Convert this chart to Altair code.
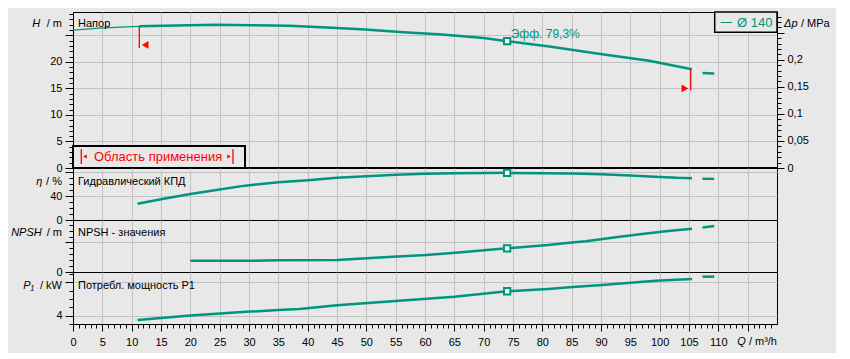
import altair as alt
import pandas as pd

# ---------------- data ----------------
# Head H [m] vs flow Q [m3/h]
Q_H_THIN = [0, 5, 11.3]
H_THIN = [26.0, 26.4, 26.7]
Q_H = [11.3, 17.5, 24.3, 30.5, 36.8, 43.3, 49.8, 56.4, 62.9, 70, 74, 81.2, 90.2, 98.2, 105.5]
H_VAL = [26.7, 26.85, 27.0, 26.9, 26.8, 26.5, 26.1, 25.6, 25.15, 24.5, 23.9, 22.9, 21.45, 20.2, 18.6]
Q_H_EXT = [107.3, 109.3]
H_EXT = [17.9, 17.8]

# Hydraulic efficiency eta [%]
Q_ETA = [11, 15, 20, 25, 29, 35, 40, 45, 50, 55, 60, 65, 70, 74, 80, 85, 90, 95, 100, 103, 105.5]
ETA = [27.3, 35, 43.8, 51.5, 57.4, 63.5, 67, 70.9, 73.8, 76.2, 77.8, 78.8, 79.2, 79.3, 78.8, 78.1, 76.8, 75, 72.5, 71, 70.4]
Q_ETA_EXT = [107.3, 109.3]
ETA_EXT = [69.5, 69.2]

# NPSH [m]
Q_NPSH = [20, 30, 35, 45, 53.7, 60.2, 66.2, 74, 81, 85, 87.4, 92.5, 97, 101, 105.5]
NPSH = [1.9, 1.9, 2.0, 2.05, 2.55, 2.88, 3.33, 4.0, 4.55, 5.0, 5.2, 5.88, 6.43, 6.88, 7.33]
Q_NPSH_EXT = [107.3, 109.3]
NPSH_EXT = [7.55, 7.77]

# Power input P1 [kW]
Q_P1 = [11, 20, 29.5, 35, 38.6, 45, 55, 65, 74, 81, 84.6, 90.2, 99.3, 105.5]
P1 = [3.865, 4.0, 4.11, 4.165, 4.2, 4.31, 4.435, 4.565, 4.73, 4.8, 4.85, 4.92, 5.05, 5.1]
Q_P1_EXT = [107.3, 109.3]
P1_EXT = [5.17, 5.17]

# duty point
Q_DUTY = 74
H_DUTY = 23.9
ETA_DUTY = 79.3
NPSH_DUTY = 4.0
P1_DUTY = 4.73

# operating range limits
Q_LIM = [11.3, 105.3]
H_LIM_TOP = [26.7, 18.6]
H_LIM_BOT = [22.6, 14.6]
Q_TRI_L = [12.3]
H_TRI_L = [23.2]
Q_TRI_R = [104.3]
H_TRI_R = [15.0]

X_TICKS = list(range(0, 120))
H_TICKS = list(range(0, 30))
DP_TICKS = [round(i * 0.01, 2) for i in range(0, 29)]
ETA_TICKS = list(range(0, 90, 10))
NPSH_TICKS = list(range(0, 9))
P1_TICKS = [3.75, 4.0, 4.25, 4.5, 4.75, 5.0, 5.25]

H_DOMAIN = [0, 29.4]
DP_DOMAIN = [0, 29.4 / 101.97]
ETA_DOMAIN = [0, 87.5]
NPSH_DOMAIN = [0, 8.8]
P1_DOMAIN = [3.745, 5.31]
Q_DOMAIN = [0, 120]

# ---------------- style ----------------
BG = "#e8e8e8"
TEAL = "#00967d"
RED = "#ff0000"
GRID = "#c2c2c2"
FONT = "Liberation Sans"
FS = 11
W = 704
H_TOP = 156
H_SUB = 52

one = pd.DataFrame({"a": [0]})


def xenc(bottom=False):
    if bottom:
        axis = alt.Axis(
            values=X_TICKS, title=None, grid=True, gridColor=GRID,
            gridOpacity={"condition": {"test": "datum.value % 5 === 0 && datum.value > 0", "value": 1}, "value": 0},
            tickSize={"condition": {"test": "datum.value % 5 === 0", "value": 7}, "value": 4},
            labelExpr="datum.value % 5 === 0 && datum.value <= 110 ? datum.label : ''",
            labelOverlap=False, labelFlush=False, labelPadding=5, domainColor="black",
            tickColor="black", labelColor="black", labelFont=FONT, labelFontSize=FS,
        )
    else:
        axis = alt.Axis(
            values=list(range(5, 120, 5)), title=None, grid=True, gridColor=GRID,
            labels=False, ticks=False, domain=False,
        )
    return alt.X("Q:Q", scale=alt.Scale(domain=Q_DOMAIN, nice=False, zero=False), axis=axis)


def yaxis(values, grid_test, major_test, label_test, orient="left"):
    return alt.Axis(
        values=values, title=None, orient=orient, format="~f",
        grid=grid_test is not None, gridColor=GRID,
        gridOpacity={"condition": {"test": grid_test or "false", "value": 1}, "value": 0},
        tickSize={"condition": {"test": major_test, "value": 8 if orient == "left" else 7}, "value": 4},
        labelExpr=label_test, labelOverlap=False, labelFlush=False, labelPadding=3,
        domainColor="black", tickColor="black", labelColor="black",
        labelFont=FONT, labelFontSize=FS,
    )


def yenc(field, domain, axis):
    return alt.Y(field + ":Q", scale=alt.Scale(domain=domain, nice=False, zero=False), axis=axis)


def line(df, yfield, domain, axis, width=2.5, bottom=False):
    return alt.Chart(df).mark_line(color=TEAL, strokeWidth=width, clip=True).encode(
        x=xenc(bottom), y=yenc(yfield, domain, axis)
    )


def duty(df, yfield, domain, axis, bottom=False):
    return alt.Chart(df).mark_point(shape="square", size=40, filled=True, fill="white",
                                    stroke=TEAL, strokeWidth=2, opacity=1).encode(
        x=xenc(bottom), y=yenc(yfield, domain, axis)
    )


def txt(text, x, y, align="left", color="black", size=FS, style="normal"):
    return alt.Chart(one).mark_text(
        text=text, align=align, baseline="middle", font=FONT, fontSize=size,
        color=color, fontStyle=style,
    ).encode(x=alt.value(x), y=alt.value(y))


def panel_labels(var, var_x, unit, name, y):
    return [
        txt(var, var_x, y, align="right", style="italic"),
        txt(unit, -11, y, align="right"),
        txt(name, 5, y),
    ]


# ---------------- top panel: head ----------------
ax_h = yaxis(H_TICKS, "datum.value % 5 === 0 && datum.value > 0", "datum.value % 5 === 0",
             "datum.value % 5 === 0 && datum.value <= 20 ? datum.label : ''")

df_h_thin = pd.DataFrame({"Q": Q_H_THIN, "H": H_THIN})
df_h = pd.DataFrame({"Q": Q_H, "H": H_VAL})
df_h_ext = pd.DataFrame({"Q": Q_H_EXT, "H": H_EXT})
df_h_duty = pd.DataFrame({"Q": [Q_DUTY], "H": [H_DUTY]})
df_lim = pd.DataFrame({"Q": Q_LIM, "H": H_LIM_TOP, "H2": H_LIM_BOT})
df_tri_l = pd.DataFrame({"Q": Q_TRI_L, "H": H_TRI_L})
df_tri_r = pd.DataFrame({"Q": Q_TRI_R, "H": H_TRI_R})

lim_rules = alt.Chart(df_lim).mark_rule(color=RED, strokeWidth=1.3).encode(
    x=xenc(), y=yenc("H", H_DOMAIN, ax_h), y2="H2:Q"
)
tri_l = alt.Chart(df_tri_l).mark_point(shape="triangle-left", size=60, filled=True,
                                       color=RED, opacity=1).encode(
    x=xenc(), y=yenc("H", H_DOMAIN, ax_h))
tri_r = alt.Chart(df_tri_r).mark_point(shape="triangle-right", size=60, filled=True,
                                       color=RED, opacity=1).encode(
    x=xenc(), y=yenc("H", H_DOMAIN, ax_h))

range_box = alt.Chart(one).mark_rect(fill=BG, stroke="black", strokeWidth=2).encode(
    x=alt.value(0), x2=alt.value(172), y=alt.value(134), y2=alt.value(156))
range_bars = alt.Chart(pd.DataFrame({"x": [8.3, 160]})).mark_rule(color=RED, strokeWidth=1.3).encode(
    x=alt.X("x:Q", scale=None), y=alt.value(137), y2=alt.value(152))
range_tri_l = alt.Chart(one).mark_point(shape="triangle-left", size=18, filled=True, color=RED, opacity=1).encode(
    x=alt.value(12), y=alt.value(144.5))
range_tri_r = alt.Chart(one).mark_point(shape="triangle-right", size=18, filled=True, color=RED, opacity=1).encode(
    x=alt.value(156), y=alt.value(144.5))
range_text = txt("Область применения", 21, 144.5, color=RED, size=13)

bottom_border = alt.Chart(one).mark_rule(color="black", strokeWidth=2).encode(
    x=alt.value(0), x2=alt.value(W), y=alt.value(156))

legend_box = alt.Chart(one).mark_rect(fill=BG, stroke="black", strokeWidth=1.5).encode(
    x=alt.value(641.7), x2=alt.value(704), y=alt.value(0), y2=alt.value(20.3))
legend_line = alt.Chart(one).mark_rule(color=TEAL, strokeWidth=1).encode(
    x=alt.value(647.7), x2=alt.value(659.3), y=alt.value(10.5))
legend_text = txt("Ø 140", 664, 10.5, color=TEAL, size=13)

eff_text = txt("Эфф.  79,3%", 437.7, 21.5, color=TEAL, size=12)

left_pad = alt.Chart(one).mark_rule(opacity=0).encode(
    x=alt.value(-62), x2=alt.value(-62), y=alt.value(0), y2=alt.value(1))

inner_top = alt.layer(
    line(df_h_thin, "H", H_DOMAIN, ax_h, width=1.3),
    line(df_h, "H", H_DOMAIN, ax_h),
    line(df_h_ext, "H", H_DOMAIN, ax_h),
    lim_rules, tri_l, tri_r,
    duty(df_h_duty, "H", H_DOMAIN, ax_h),
    range_box, range_bars, range_tri_l, range_tri_r, range_text, bottom_border,
    legend_box, legend_line, legend_text, eff_text, left_pad,
    *panel_labels("H", -32.7, "/ m", "Напор", 12),
    txt("Δp", 711, 12.3, style="italic"),
    txt("/ MPa", 728, 12.3),
)

ax_dp = yaxis(DP_TICKS, None, "round(datum.value*100) % 5 === 0",
              "round(datum.value*100) % 5 === 0 && datum.value < 0.21 ? replace(datum.label, '.', ',') : ''",
              orient="right")
dp_layer = alt.Chart(pd.DataFrame({"Q": [0], "dp": [0]})).mark_point(opacity=0).encode(
    x=xenc(), y=yenc("dp", DP_DOMAIN, ax_dp))

top = alt.layer(inner_top, dp_layer).resolve_scale(y="independent").properties(width=W, height=H_TOP)

# ---------------- efficiency ----------------
ax_eta = yaxis(ETA_TICKS, "datum.value === 40 || datum.value === 80", "datum.value % 40 === 0",
               "datum.value === 0 || datum.value === 40 ? datum.label : ''")
df_eta = pd.DataFrame({"Q": Q_ETA, "eta": ETA})
df_eta_ext = pd.DataFrame({"Q": Q_ETA_EXT, "eta": ETA_EXT})
df_eta_duty = pd.DataFrame({"Q": [Q_DUTY], "eta": [ETA_DUTY]})
eta_panel = alt.layer(
    line(df_eta, "eta", ETA_DOMAIN, ax_eta),
    line(df_eta_ext, "eta", ETA_DOMAIN, ax_eta),
    duty(df_eta_duty, "eta", ETA_DOMAIN, ax_eta),
    *panel_labels("η", -30.7, "/ %", "Гидравлический КПД", 13.5),
).properties(width=W, height=H_SUB)

# ---------------- NPSH ----------------
ax_npsh = yaxis(NPSH_TICKS, "datum.value === 5", "datum.value % 5 === 0",
                "datum.value === 0 ? datum.label : ''")
df_npsh = pd.DataFrame({"Q": Q_NPSH, "npsh": NPSH})
df_npsh_ext = pd.DataFrame({"Q": Q_NPSH_EXT, "npsh": NPSH_EXT})
df_npsh_duty = pd.DataFrame({"Q": [Q_DUTY], "npsh": [NPSH_DUTY]})
npsh_panel = alt.layer(
    line(df_npsh, "npsh", NPSH_DOMAIN, ax_npsh),
    line(df_npsh_ext, "npsh", NPSH_DOMAIN, ax_npsh),
    duty(df_npsh_duty, "npsh", NPSH_DOMAIN, ax_npsh),
    *panel_labels("NPSH", -31.3, "/ m", "NPSH - значения", 12.5),
).properties(width=W, height=H_SUB)

# ---------------- power ----------------
ax_p1 = yaxis(P1_TICKS, "datum.value === 4 || datum.value === 5", "datum.value % 1 === 0",
              "datum.value === 4 ? datum.label : ''")
df_p1 = pd.DataFrame({"Q": Q_P1, "p1": P1})
df_p1_ext = pd.DataFrame({"Q": Q_P1_EXT, "p1": P1_EXT})
df_p1_duty = pd.DataFrame({"Q": [Q_DUTY], "p1": [P1_DUTY]})
p1_panel = alt.layer(
    line(df_p1, "p1", P1_DOMAIN, ax_p1, bottom=True),
    line(df_p1_ext, "p1", P1_DOMAIN, ax_p1, bottom=True),
    duty(df_p1_duty, "p1", P1_DOMAIN, ax_p1, bottom=True),
    *panel_labels("P₁", -39, "/ kW", "Потребл.  мощность P1", 13.5),
    txt("Q", 672.7, 70, align="right", style="italic"),
    txt("/ m³/h", 704, 70, align="right"),
).properties(width=W, height=H_SUB)

chart = alt.vconcat(top, eta_panel, npsh_panel, p1_panel, spacing=0, bounds="flush").resolve_scale(
    x="independent", y="independent"
).properties(
    background=BG, padding={"left": 2, "top": -1, "right": 5, "bottom": 5}
).configure_view(
    stroke="black", strokeWidth=1, fill=BG
).configure_axis(
    labelFont=FONT, labelFontSize=FS
)

chart.save("out.html", embed_options={"renderer": "svg", "actions": False})
